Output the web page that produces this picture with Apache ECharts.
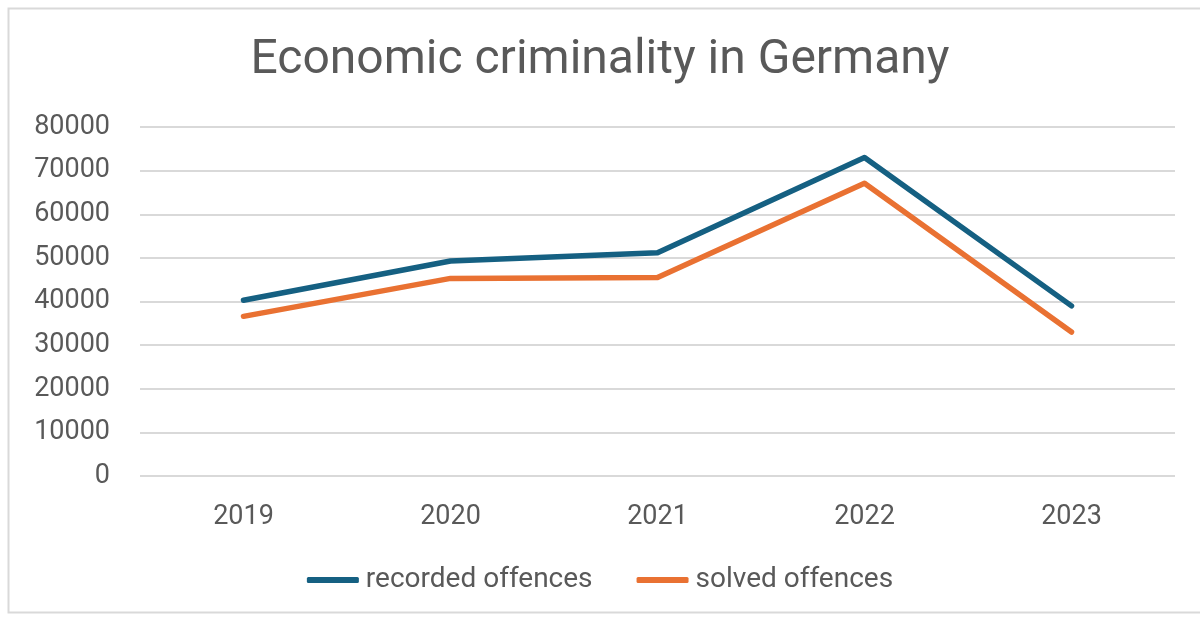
<!DOCTYPE html>
<html>
<head>
<meta charset="utf-8">
<script src="https://cdn.jsdelivr.net/npm/echarts@6/dist/echarts.min.js"></script>
<style>
  html, body { margin: 0; padding: 0; background: #fff; }
  #chart { width: 1200px; height: 618px; }
</style>
</head>
<body>
<div id="chart"></div>
<script>
// values
const years = ['2019', '2020', '2021', '2022', '2023'];
const recorded = [40300, 49300, 51200, 73000, 39000];
const solved = [36600, 45300, 45500, 67100, 33000];
const yTicks = { min: 0, max: 80000, step: 10000 };

const textColor = '#595959';
const font = 'Roboto';

let myChart = echarts.init(document.getElementById('chart'));
let option = {
    backgroundColor: '#fff',
    color: ['#156082', '#E97132'],
    textStyle: { fontFamily: font },
    title: {
        text: 'Economic criminality in Germany',
        left: 'center',
        top: 32,
        textStyle: { fontFamily: font, fontSize: 48, fontWeight: 'normal', color: textColor }
    },
    graphic: [{
        type: 'rect',
        shape: { x: 8.5, y: 8.5, width: 1200, height: 604 },
        style: { fill: 'none', stroke: '#d9d9d9', lineWidth: 2 },
        silent: true
    }],
    legend: {
        top: 561,
        left: 'center',
        itemWidth: 52,
        itemHeight: 6,
        itemGap: 44,
        icon: 'roundRect',
        textStyle: { fontFamily: font, fontSize: 28, color: textColor, padding: [0, 0, 0, 2] },
        data: ['recorded offences', 'solved offences']
    },
    grid: {
        left: 140,
        right: 25,
        top: 127,
        bottom: 142,
        containLabel: false
    },
    xAxis: {
        type: 'category',
        data: years,
        boundaryGap: true,
        axisLine: { show: false },
        axisTick: { show: false },
        axisLabel: { fontFamily: font, fontSize: 27, color: textColor, margin: 28 }
    },
    yAxis: {
        type: 'value',
        min: yTicks.min,
        max: yTicks.max,
        interval: yTicks.step,
        axisLine: { show: false },
        axisTick: { show: false },
        axisLabel: {
            fontFamily: font, fontSize: 27, color: textColor, margin: 30,
            formatter: v => String(v)
        },
        splitLine: { lineStyle: { color: '#d9d9d9', width: 2 } }
    },
    series: [{
        name: 'recorded offences',
        type: 'line',
        data: recorded,
        symbol: 'none',
        lineStyle: { width: 5.5, cap: 'round', join: 'round' }
    }, {
        name: 'solved offences',
        type: 'line',
        data: solved,
        symbol: 'none',
        lineStyle: { width: 5.5, cap: 'round', join: 'round' }
    }]
};
myChart.setOption(option);
</script>
</body>
</html>
